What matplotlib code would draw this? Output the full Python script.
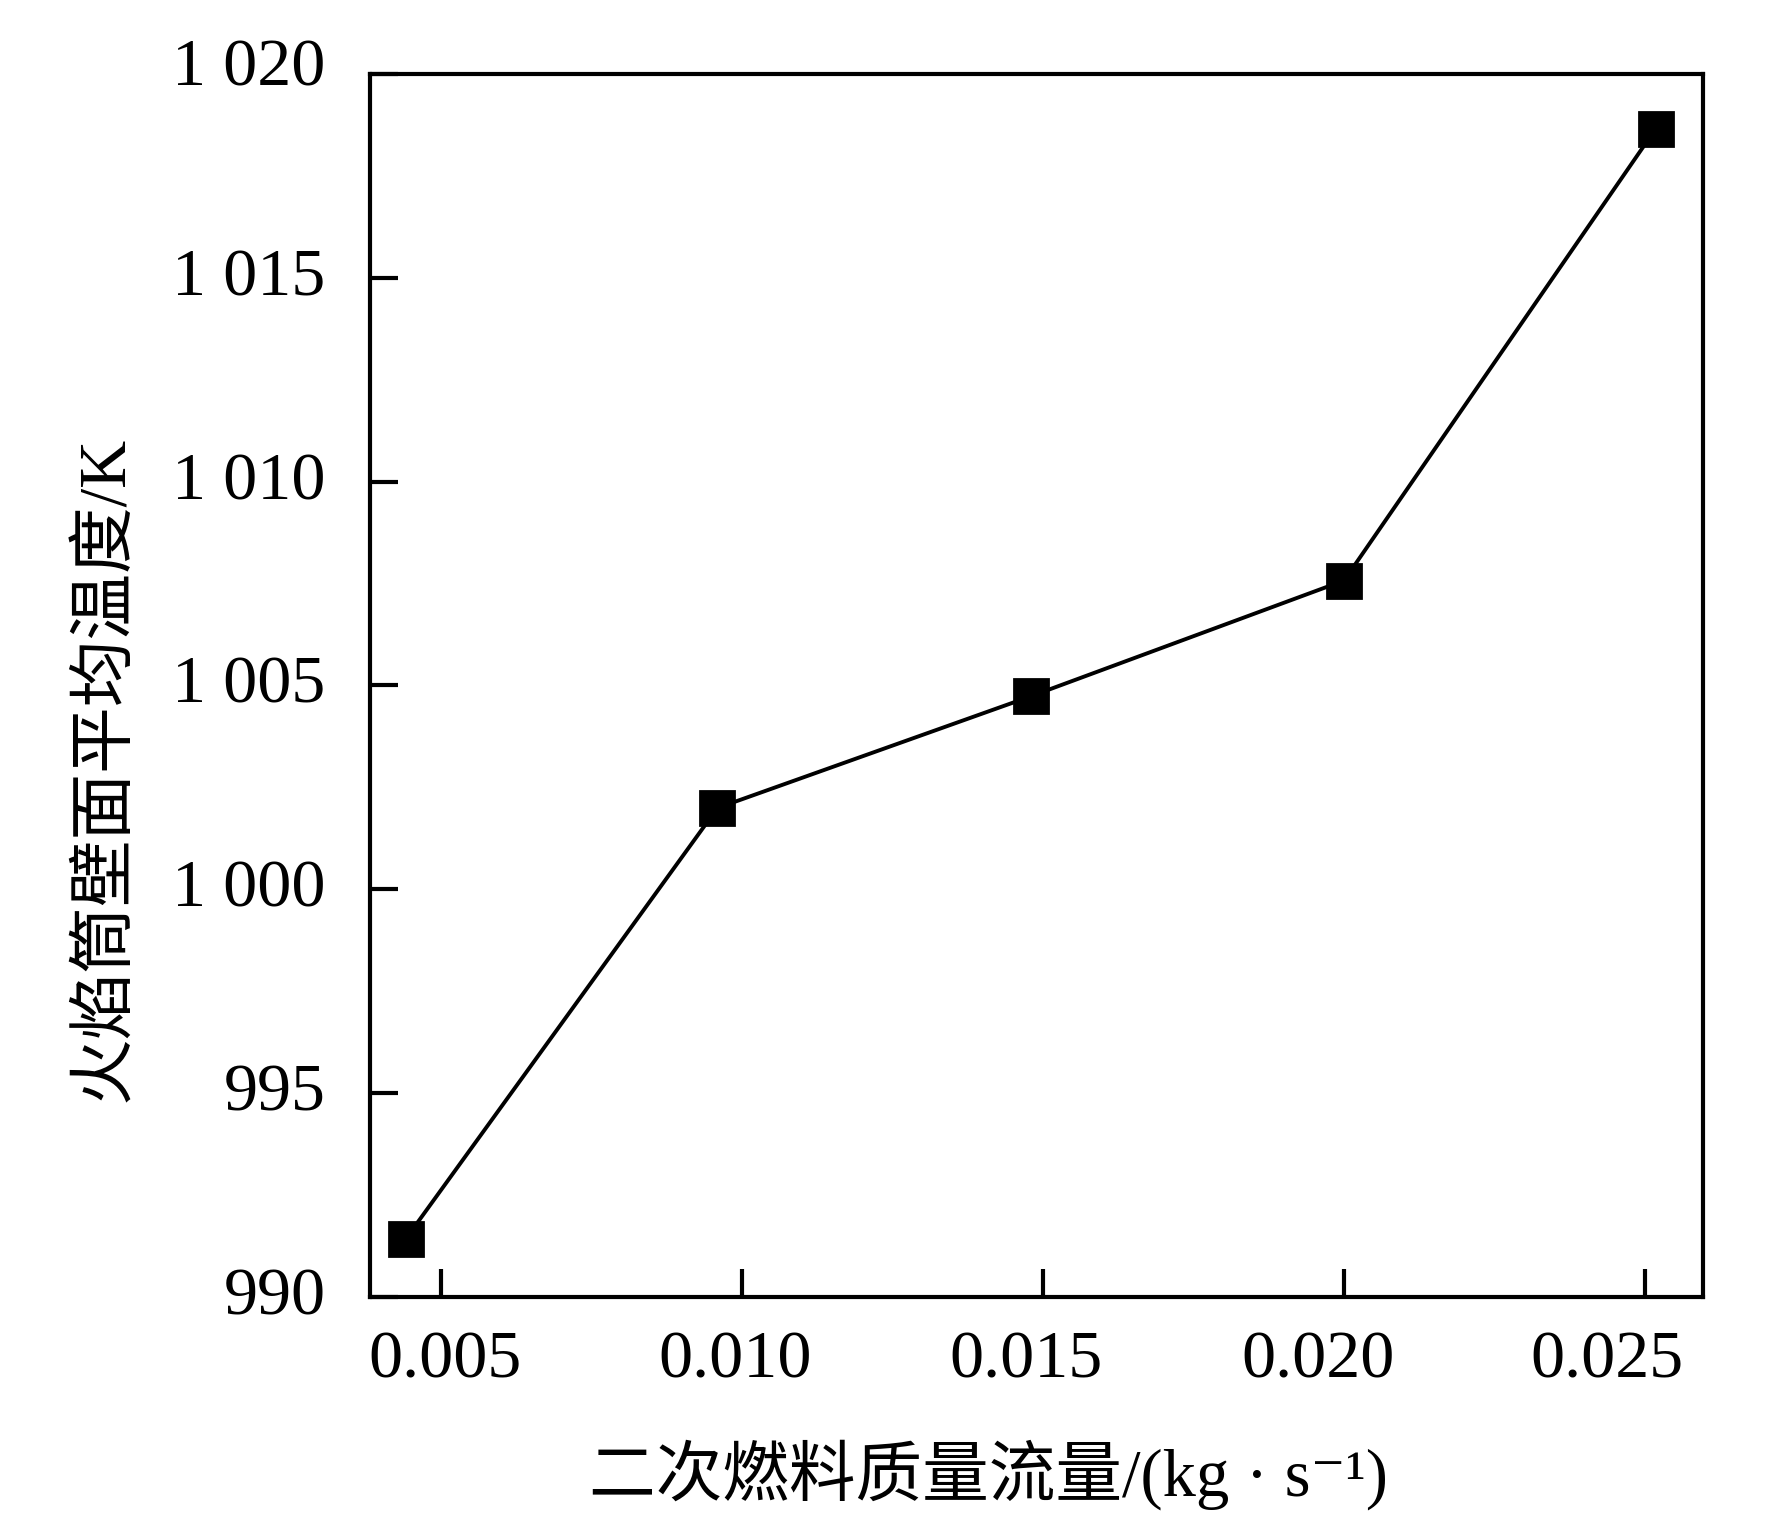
import matplotlib
matplotlib.use("Agg")
import matplotlib.pyplot as plt
from matplotlib.transforms import ScaledTranslation

# data
flow = [0.004415, 0.009593, 0.014797, 0.020000, 0.025180]
temp = [991.42, 1001.99, 1004.73, 1007.57, 1018.66]
xticks = [0.005, 0.010, 0.015, 0.020, 0.025]
xticklabels = ["0.005", "0.010", "0.015", "0.020", "0.025"]
yticks = [990, 995, 1000, 1005, 1010, 1015, 1020]
yticklabels = ["990", "995", "1 000", "1 005", "1 010", "1 015", "1 020"]
xlabel = "二次燃料质量流量/(kg · s⁻¹)"
ylabel = "火焰筒壁面平均温度/K"

# small label offsets (pixels) seen in the reference typesetting
x_label_shift = [4.5, -7, -17, -26, -38]
y_label_shift = [6, 6, 6, 6, 6, 6, 12]

plt.rcParams['font.family'] = ['Liberation Serif', 'Noto Sans CJK SC', 'DejaVu Sans']

dpi = 200
fig = plt.figure(figsize=(1772 / dpi, 1518 / dpi), dpi=dpi)
ax = fig.add_axes([0.2088, 0.1458, 0.9609 - 0.2088, 0.9513 - 0.1458])

ax.plot(flow, temp, linestyle='none', marker='s', ms=11.9,
        mfc='black', mec='black', zorder=2)
ax.plot(flow, temp, color='black', lw=1.4, zorder=3)

ax.set_xlim(0.003821, 0.025958)
ax.set_ylim(990, 1020)
ax.set_xticks(xticks)
ax.set_xticklabels(xticklabels)
ax.set_yticks(yticks)
ax.set_yticklabels(yticklabels)

for s in ax.spines.values():
    s.set_linewidth(1.5)
ax.tick_params(direction='in', length=10, width=1.5, labelsize=24.5)
ax.tick_params(axis='x', pad=12)
ax.tick_params(axis='y', pad=16)

for lab, dx in zip(ax.get_xticklabels(), x_label_shift):
    lab.set_transform(lab.get_transform() + ScaledTranslation(dx / dpi, 0, fig.dpi_scale_trans))
for lab, dy in zip(ax.get_yticklabels(), y_label_shift):
    lab.set_transform(lab.get_transform() + ScaledTranslation(0, dy / dpi, fig.dpi_scale_trans))

ax.set_xlabel(xlabel, fontsize=24)
ax.set_ylabel(ylabel, fontsize=24)
ax.xaxis.set_label_coords(0.464, -0.117)
ax.yaxis.set_label_coords(-0.175, 0.432)

fig.savefig("out.png", dpi=dpi)
